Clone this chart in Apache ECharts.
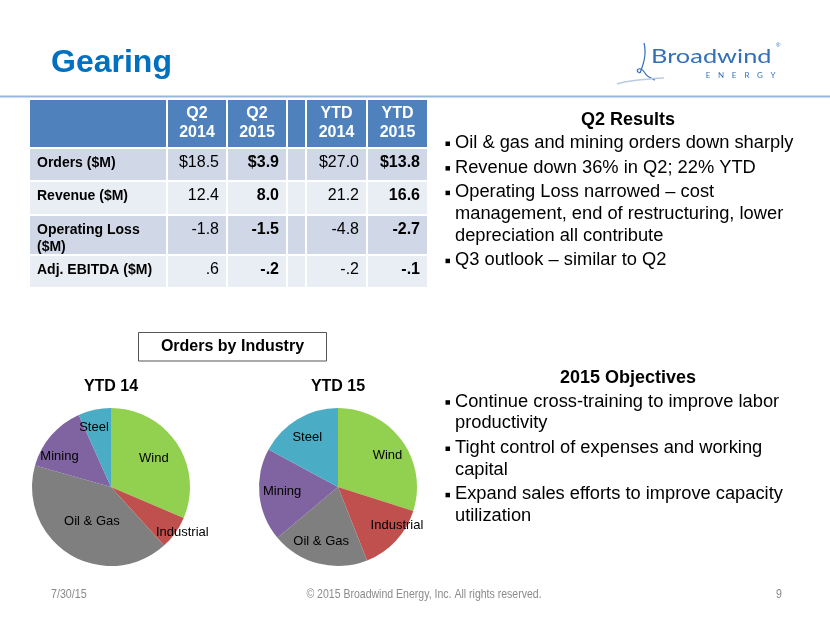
<!DOCTYPE html>
<html><head><meta charset="utf-8">
<script src="https://cdn.jsdelivr.net/npm/echarts@6/dist/echarts.min.js"></script>
<style>html,body{margin:0;padding:0;background:#fff}#c{width:830px;height:623px}</style>
</head><body><div id="c"></div>
<script>
// ---- data ----
const industries = ['Wind', 'Industrial', 'Oil & Gas', 'Mining', 'Steel'];
const ytd14Share = [31.4, 6.9, 41.1, 13.9, 6.7];
const ytd15Share = [29.9, 14.1, 19.9, 19.0, 17.1];
const pieTitles = ['YTD 14', 'YTD 15'];

const tableHeaders = ['Q2\n2014', 'Q2\n2015', '', 'YTD\n2014', 'YTD\n2015'];
const rowLabels = ['Orders ($M)', 'Revenue ($M)', 'Operating Loss\n($M)', 'Adj. EBITDA ($M)'];
const q2_2014 = [18.5, 12.4, -1.8, 0.6];
const q2_2015 = [3.9, 8.0, -1.5, -0.2];
const ytd2014 = [27.0, 21.2, -4.8, -0.2];
const ytd2015 = [13.8, 16.6, -2.7, -0.1];

const q2Heading = 'Q2 Results';
const q2Bullets = [
  ['Oil & gas and mining orders down sharply'],
  ['Revenue down 36% in Q2; 22% YTD'],
  ['Operating Loss narrowed \u2013 cost', 'management, end of restructuring, lower', 'depreciation all contribute'],
  ['Q3 outlook \u2013 similar to Q2']
];
const objHeading = '2015 Objectives';
const objBullets = [
  ['Continue cross-training to improve labor', 'productivity'],
  ['Tight control of expenses and working', 'capital'],
  ['Expand sales efforts to improve capacity', 'utilization']
];

// ---- styling / layout ----
const F = '"Liberation Sans", Arial, Helvetica, sans-serif';
const pieColors = ['#92D050', '#C0504D', '#7F7F7F', '#8064A2', '#4BACC6'];
const pieCenters = [[111, 487], [338, 487]];
const pieR = 79;
const labelRadius = [[0.65, 1.07, 0.5, 0.76, 0.78], [0.74, 0.89, 0.72, 0.71, 0.74]];
const labelAngle = [[0, -3, -3, -10, -4], [4, -10, 3, 1, -1]];

const colEdges = [29, 167, 227, 287, 306, 367, 428];
const rowEdges = [99, 148, 181, 215, 255, 288];
const rowFills = ['#D0D8E8', '#E9EDF4', '#D0D8E8', '#E9EDF4'];

function fmt(v, dollar) {
  let s = Math.abs(v).toFixed(1);
  if (Math.abs(v) < 1) s = s.replace(/^0/, '');
  return (v < 0 ? '-' : '') + (dollar ? '$' : '') + s;
}

const g = [];
function txt(x, y, text, o, extra) {
  g.push(Object.assign({ type: 'text', x: x, y: y, silent: true,
    style: Object.assign({ text: text, fill: '#000', fontFamily: F, fontSize: 16,
      align: 'left', verticalAlign: 'middle' }, o || {}) }, extra || {}));
}
function curve(s, stroke, w) {
  g.push({ type: 'bezierCurve', silent: true, shape: s, style: { fill: 'none', stroke: stroke, lineWidth: w } });
}

// title + separator
txt(51, 63.5, 'Gearing', { fontSize: 32, fontWeight: 'bold', fill: '#0070C0' });
g.push({ type: 'rect', silent: true, shape: { x: 0, y: 95.5, width: 830, height: 2 }, style: { fill: '#95B7E0' } });

// logo
curve({ x1: 644, y1: 43, cpx1: 647, cpy1: 55, cpx2: 643, cpy2: 65, x2: 640, y2: 73 }, '#3470B8', 1.2);
curve({ x1: 640, y1: 73, cpx1: 634, cpy1: 72, cpx2: 639, cpy2: 64, x2: 645, y2: 73 }, '#3470B8', 1.2);
curve({ x1: 645, y1: 73, cpx1: 647, cpy1: 77, cpx2: 651, cpy2: 78, x2: 655, y2: 80 }, '#3470B8', 1.2);
curve({ x1: 617, y1: 84, cpx1: 630, cpy1: 80, cpx2: 648, cpy2: 79, x2: 664, y2: 78 }, '#B8CCE6', 1.5);
txt(651, 57, 'Broadwind', { fill: '#3470B8', fontFamily: 'Lato, "Open Sans", sans-serif', fontSize: 20 }, { scaleX: 1.27 });
txt(776, 45, '\u00AE', { fontSize: 6, fill: '#3470B8' });
'ENERGY'.split('').forEach(function (ch, i) {
  txt(708 + i * 13, 75, ch, { fontSize: 8, fill: '#3470B8', align: 'center', fontFamily: 'Lato, sans-serif' });
});

// table
for (let r = -1; r < rowLabels.length; r++) {
  const y0 = rowEdges[r + 1], y1 = rowEdges[r + 2];
  for (let c = 0; c < colEdges.length - 1; c++) {
    const x0 = colEdges[c], x1 = colEdges[c + 1];
    g.push({ type: 'rect', silent: true, shape: { x: x0 + 1, y: y0 + 1, width: x1 - x0 - 2, height: y1 - y0 - 2 },
      style: { fill: r < 0 ? '#4F81BD' : rowFills[r] } });
  }
}
tableHeaders.forEach(function (h, i) {
  if (!h) return;
  const cx = (colEdges[i + 1] + colEdges[i + 2]) / 2;
  txt(cx, 123, h, { fill: '#fff', fontWeight: 'bold', fontSize: 16, align: 'center', lineHeight: 19 });
});
const cols = [q2_2014, q2_2015, null, ytd2014, ytd2015];
const boldCol = [false, true, false, false, true];
rowLabels.forEach(function (lab, r) {
  const top = rowEdges[r + 1];
  txt(37, top + 6.5, lab, { fontWeight: 'bold', fontSize: 14, verticalAlign: 'top', lineHeight: 17 });
  cols.forEach(function (arr, c) {
    if (!arr) return;
    txt(colEdges[c + 2] - 8, top + 6.5, fmt(arr[r], r === 0), { fontSize: 16, verticalAlign: 'top', lineHeight: 17,
      align: 'right', fontWeight: boldCol[c] ? 'bold' : 'normal' });
  });
});

// right text blocks
function bulletBlock(headY, head, bullets, startY) {
  txt(628, headY, head, { fontSize: 18, fontWeight: 'bold', align: 'center' });
  let y = startY;
  bullets.forEach(function (lines) {
    g.push({ type: 'rect', silent: true, shape: { x: 445.5, y: y - 1.5, width: 4.5, height: 4.5 }, style: { fill: '#000' } });
    lines.forEach(function (ln, k) {
      txt(455, y, ln, { fontSize: 18.3 });
      y += (k < lines.length - 1) ? 21.7 : 0;
    });
    y += 24.6;
  });
}
bulletBlock(120, q2Heading, q2Bullets, 143);
bulletBlock(378, objHeading, objBullets, 401.7);

// orders by industry box + pie titles
g.push({ type: 'rect', silent: true, shape: { x: 138.5, y: 332.5, width: 188, height: 28.5 },
  style: { fill: '#fff', stroke: '#555', lineWidth: 1 } });
txt(232.5, 347, 'Orders by Industry', { fontWeight: 'bold', fontSize: 16, align: 'center' });
pieTitles.forEach(function (t, i) {
  txt(pieCenters[i][0], 387, t, { fontWeight: 'bold', fontSize: 16, align: 'center' });
});

// footer
const foot = { fontSize: 13, fill: '#8B8B8B' };
txt(51, 594, '7/30/15', foot, { scaleX: 0.82 });
txt(424, 594, '\u00A9 2015 Broadwind Energy, Inc. All rights reserved.', Object.assign({ align: 'center' }, foot), { scaleX: 0.81 });
txt(779, 594, '9', Object.assign({ align: 'center' }, foot), { scaleX: 0.82 });

function pieSeries(idx, shares) {
  return {
    type: 'pie', center: pieCenters[idx], radius: pieR, startAngle: 90, clockwise: true,
    animation: false, silent: true, avoidLabelOverlap: false,
    itemStyle: { borderWidth: 0 },
    data: industries.map(function (n, i) { return { name: n, value: shares[i] }; }),
    label: { show: true, position: 'inside', formatter: '{b}', color: '#000', fontSize: 13, fontFamily: F },
    labelLine: { show: false },
    labelLayout: function (p) {
      const c = pieCenters[idx];
      const lx = p.labelRect.x + p.labelRect.width / 2;
      const ly = p.labelRect.y + p.labelRect.height / 2;
      const vx = lx - c[0], vy = ly - c[1];
      const len = Math.sqrt(vx * vx + vy * vy) || 1;
      const f = labelRadius[idx][p.dataIndex] * pieR / len;
      const a = labelAngle[idx][p.dataIndex] * Math.PI / 180;
      const nx = (vx * Math.cos(a) - vy * Math.sin(a)) * f;
      const ny = (vx * Math.sin(a) + vy * Math.cos(a)) * f;
      return { dx: c[0] + nx - lx, dy: c[1] + ny - ly };
    }
  };
}

const chart = echarts.init(document.getElementById('c'), null, { renderer: 'canvas' });
chart.setOption({
  backgroundColor: '#fff',
  animation: false,
  color: pieColors,
  graphic: g,
  series: [pieSeries(0, ytd14Share), pieSeries(1, ytd15Share)]
});
</script>
</body></html>
